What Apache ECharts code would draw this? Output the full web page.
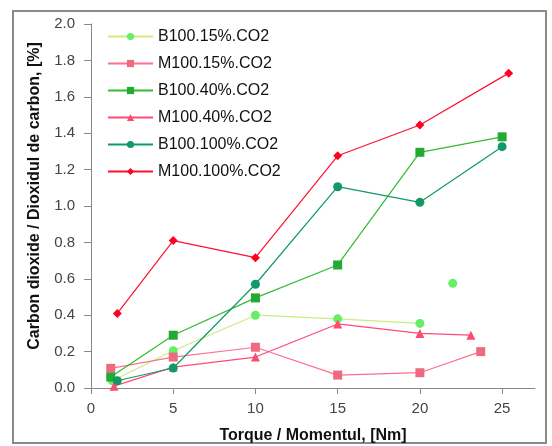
<!DOCTYPE html>
<html>
<head>
<meta charset="utf-8">
<script src="https://cdn.jsdelivr.net/npm/echarts@6/dist/echarts.min.js"></script>
<style>html,body{margin:0;padding:0;background:#fff}#c{width:552px;height:446px}</style>
</head>
<body>
<div id="c"></div>
<script>
const seriesNames = ['B100.15%.CO2','M100.15%.CO2','B100.40%.CO2','M100.40%.CO2','B100.100%.CO2','M100.100%.CO2'];
const b15_x = [1.3, 5, 10, 15, 20, 21, 22];
const b15_y = [0.04, 0.205, 0.40, 0.38, 0.355, null, 0.575];
const m15_x = [1.2, 5, 10, 15, 20, 23.7];
const m15_y = [0.108, 0.17, 0.224, 0.071, 0.084, 0.20];
const b40_x = [1.2, 5, 10, 15, 20, 25];
const b40_y = [0.06, 0.29, 0.495, 0.676, 1.295, 1.38];
const m40_x = [1.4, 5, 10, 15, 20, 23.1];
const m40_y = [0.01, 0.115, 0.17, 0.352, 0.30, 0.29];
const b100_x = [1.6, 5, 10, 15, 20, 25];
const b100_y = [0.04, 0.11, 0.57, 1.106, 1.02, 1.326];
const m100_x = [1.6, 5, 10, 15, 20, 25.4];
const m100_y = [0.41, 0.81, 0.716, 1.276, 1.445, 1.73];
const xTicks = [0, 5, 10, 15, 20, 25];
const yTicks = [0, 0.2, 0.4, 0.6, 0.8, 1.0, 1.2, 1.4, 1.6, 1.8, 2.0];

function pairs(xs, ys) { return xs.map((x, i) => [x, ys[i] === null ? '-' : ys[i]]); }

const styles = [
  {line:'#c8ee80', mark:'#66ee66', symbol:'circle', size:9},
  {line:'#ff7090', mark:'#ee6a80', symbol:'rect', size:9},
  {line:'#33bb33', mark:'#22aa33', symbol:'rect', size:9},
  {line:'#ff4a78', mark:'#ff4a70', symbol:'triangle', size:9},
  {line:'#119966', mark:'#119966', symbol:'circle', size:9},
  {line:'#ff1030', mark:'#ff0020', symbol:'diamond', size:9}
];
const datas = [pairs(b15_x,b15_y), pairs(m15_x,m15_y), pairs(b40_x,b40_y), pairs(m40_x,m40_y), pairs(b100_x,b100_y), pairs(m100_x,m100_y)];

const font = '"Liberation Sans", Arial, sans-serif';
const chart = echarts.init(document.getElementById('c'), null, {renderer:'canvas'});
chart.setOption({
  backgroundColor:'#fff',
  animation:false,
  graphic:[{type:'rect', shape:{x:13, y:11, width:533, height:432}, style:{fill:'none', stroke:'#8a8a8a', lineWidth:2}, silent:true}],
  grid:{left:91, right:17, top:24, bottom:58, containLabel:false, outerBoundsMode:'none'},
  legend:{
    orient:'vertical', left:102, top:23, itemWidth:45, itemHeight:9, itemGap:10,
    data:seriesNames,
    textStyle:{fontSize:16, fontFamily:font, color:'#111', lineHeight:17}
  },
  xAxis:{
    type:'value', min:0, max:27, interval:5,
    name:'Torque / Momentul, [Nm]', nameLocation:'middle', nameGap:40,
    nameTextStyle:{fontSize:16, fontWeight:'bold', fontFamily:font, color:'#111'},
    axisLine:{lineStyle:{color:'#888', width:1}},
    axisTick:{show:true, length:6, lineStyle:{color:'#888'}, customValues:xTicks},
    axisLabel:{fontSize:15, fontFamily:font, color:'#444', margin:13, customValues:xTicks},
    splitLine:{show:false}
  },
  yAxis:{
    type:'value', min:0, max:2, interval:0.2,
    name:'Carbon dioxide / Dioxidul de carbon, [%]', nameLocation:'middle', nameGap:48,
    nameTextStyle:{fontSize:16, fontWeight:'bold', fontFamily:font, color:'#111', padding:[0,0,0,20]},
    axisLine:{show:true, lineStyle:{color:'#888', width:1}},
    axisTick:{show:true, length:7, lineStyle:{color:'#888'}},
    axisLabel:{fontSize:15, fontFamily:font, color:'#444', margin:16, formatter:v => v.toFixed(1)},
    splitLine:{show:false}
  },
  series: seriesNames.map((n, i) => ({
    name:n, type:'line', data:datas[i], connectNulls:false,
    symbol:styles[i].symbol, symbolSize:styles[i].size, showAllSymbol:true,
    lineStyle:{color:styles[i].line, width:1.2},
    itemStyle:{color:styles[i].mark},
    z: 2 + i
  }))
});
</script>
</body>
</html>
